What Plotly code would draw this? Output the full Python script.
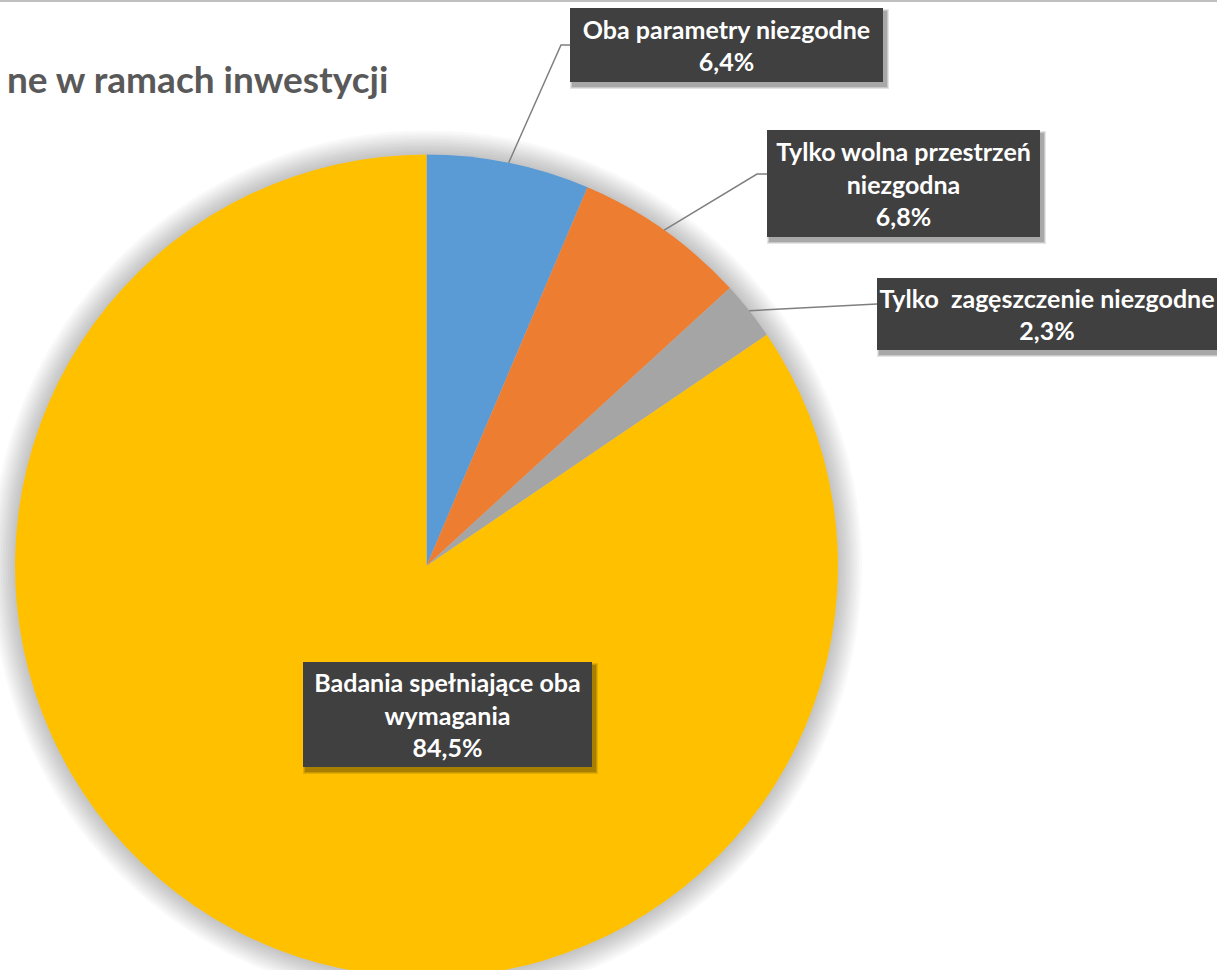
import math
import plotly.graph_objects as go

# ---- data ----
categories = [
    "Oba parametry niezgodne",
    "Tylko wolna przestrzeń niezgodna",
    "Tylko zagęszczenie niezgodne",
    "Badania spełniające oba wymagania",
]
values = [6.4, 6.8, 2.3, 84.5]
label_lines = [
    "Oba parametry niezgodne",
    "Tylko wolna przestrzeń<br>niezgodna",
    "Tylko  zagęszczenie niezgodne",
    "Badania spełniające oba<br>wymagania",
]
colors = ["#5B9BD5", "#ED7D31", "#A5A5A5", "#FFC000"]
title_fragment = "ne w ramach inwestycji"

# ---- layout constants (pixels) ----
W, H = 1217, 980
cx, cy, R = 426.5, 566.0, 411.5
boxes = [(570, 8, 883, 82), (767, 130, 1040, 237), (877, 278, 1217, 350), (303, 662, 592, 767)]
elbows = [[(561, 45), (570, 45)], [(757, 174), (767, 174)], [(877, 304)], None]

def px(x):
    return x / W

def py(y):
    return 1 - y / H

fig = go.Figure()

fig.add_trace(go.Pie(
    labels=categories, values=values, sort=False, direction="clockwise", rotation=0,
    marker=dict(colors=colors, line=dict(width=0)),
    textinfo="none", hoverinfo="label+percent", showlegend=False,
    domain=dict(x=[px(cx - R), px(cx + R)], y=[py(cy + R), py(cy - R)]),
))

shapes = []
# soft pie shadow
for k in range(1, 11):
    r = R + 2.4 * k
    shapes.append(dict(type="circle", xref="paper", yref="paper", layer="below",
                       x0=px(cx - r), x1=px(cx + r), y0=py(cy + r), y1=py(cy - r),
                       fillcolor="rgba(0,0,0,0.022)", line=dict(width=0)))

# top border line
shapes.append(dict(type="line", xref="paper", yref="paper", x0=0, x1=1, y0=py(1), y1=py(1),
                   line=dict(color="#BFBFBF", width=2)))

total = sum(values)
cum = 0
annotations = []
for i, v in enumerate(values):
    a = 2 * math.pi * (cum + v / 2) / total
    cum += v
    sx, sy = cx + R * math.sin(a), cy - R * math.cos(a)
    if elbows[i]:
        pts = [(sx, sy)] + elbows[i]
        path = "M " + " L ".join(f"{px(x)},{py(y)}" for x, y in pts)
        shapes.append(dict(type="path", xref="paper", yref="paper", path=path,
                           line=dict(color="#7F7F7F", width=1.5), layer="above"))
    x0, y0, x1, y1 = boxes[i]
    # box shadow
    for j, op in enumerate([0.10, 0.12, 0.16]):
        d = 3 - j
        shapes.append(dict(type="rect", xref="paper", yref="paper", layer="above",
                           x0=px(x0 + 3 - d), x1=px(x1 + 3 + d), y0=py(y1 + 4 + d), y1=py(y0 + 4 - d),
                           fillcolor=f"rgba(0,0,0,{op})", line=dict(width=0)))
    txt = f"{label_lines[i]}<br>{v:.1f}".replace(".", ",") + "%"
    annotations.append(dict(
        x=px((x0 + x1) / 2), y=py((y0 + y1) / 2), xref="paper", yref="paper",
        xanchor="center", yanchor="middle", showarrow=False,
        text=f"<b>{txt}</b>", align="center", valign="middle",
        width=x1 - x0, height=y1 - y0, bgcolor="#404040", borderwidth=0, borderpad=0,
        font=dict(family="Lato", size=25, color="white"),
    ))

annotations.append(dict(
    x=px(390), y=py(79), xref="paper", yref="paper", xanchor="right", yanchor="middle",
    showarrow=False, text=f"<b>{title_fragment}</b>",
    font=dict(family="Lato", size=37, color="#595959"),
))

fig.update_layout(
    width=W, height=H, margin=dict(l=0, r=0, t=0, b=0),
    paper_bgcolor="white", plot_bgcolor="white",
    shapes=shapes, annotations=annotations,
)

fig.write_html(
    "out.html",
    config={"displayModeBar": False},
    post_script="document.documentElement.style.overflow='hidden';document.body.style.overflow='hidden';document.body.style.margin='0';",
)
